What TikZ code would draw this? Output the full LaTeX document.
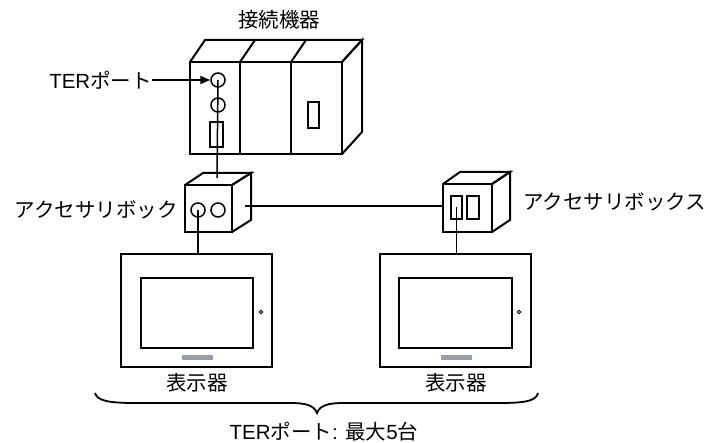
\documentclass[tikz,border=0pt]{standalone}
\usepackage{fontspec}
\setmainfont{Liberation Sans}
\newfontfamily\jp{Noto Sans CJK JP}
\usetikzlibrary{arrows.meta}
\definecolor{bargray}{RGB}{152,156,164}
\begin{document}
\begin{tikzpicture}[x=1pt,y=-1pt,
  dev/.style={draw=black,line width=2pt,line join=miter},
  wire/.style={draw=black,line width=1.5pt},
  port/.style={circle,draw=black,line width=1.5pt,minimum size=14pt,inner sep=0pt},
  slot/.style={rectangle,draw=black,line width=1.5pt,inner sep=0pt},
  lbl/.style={inner sep=0pt,font=\fontsize{20.5}{24}\selectfont},
  panel/.style={rectangle,draw=black,line width=2pt,inner sep=0pt},
  led/.style={circle,draw=black,line width=0.8pt,minimum size=3.5pt,inner sep=0pt},
  bar/.style={rectangle,fill=bargray,inner sep=0pt,minimum width=31pt,minimum height=5pt}]
\useasboundingbox (0,0) rectangle (714,443);

% --- PLC rack (three modules) ---
\draw[dev] (190,62) rectangle (240,154);
\draw[dev] (240,62) rectangle (291,154);
\draw[dev] (291,62) rectangle (342,154);
\draw[dev] (190,62) -- (205,40) -- (362,40) -- (342,62);
\draw[dev] (240,62) -- (255,40);
\draw[dev] (291,62) -- (306,40);
\draw[dev] (342,62) -- (362,40) -- (362,132) -- (342,154);
\node[lbl] (plcname) at (279,20) {\jp 接続機器};

\node[port] (ter) at (218,80) {};
\node[port] (p2) at (218,105) {};
\node[slot,minimum width=13pt,minimum height=25pt] (p3) at (216.5,134.5) {};
\node[slot,minimum width=11pt,minimum height=26pt] (p4) at (313.5,115) {};

\node[lbl,anchor=east] (terlbl) at (152,80) {TER{\jp ポート}};
\draw[wire,line width=1.8pt,-{Triangle[length=10pt,width=8pt]}] (terlbl.east) -- (ter.west);

% --- accessory box (left) ---
\draw[dev] (185,185) rectangle (232,232);
\draw[dev] (185,185) -- (203,173) -- (251,173) -- (232,185);
\draw[dev] (232,185) -- (251,173) -- (251,220) -- (232,232);
\node[port] (ab1) at (198,210) {};
\node[port] (ab2) at (218,210) {};
\coordinate (abtop) at (217,178);
\coordinate (abside) at (245,206);
\node[lbl,anchor=east] (ablbl) at (178,210) {\jp アクセサリボック};

% --- accessory box (right) ---
\draw[dev] (443,184) rectangle (492,232);
\draw[dev] (443,184) -- (460,172) -- (510,172) -- (492,184);
\draw[dev] (492,184) -- (510,172) -- (510,220) -- (492,232);
\node[slot,minimum width=11pt,minimum height=23pt] (rb1) at (456.5,207.5) {};
\node[slot,minimum width=12pt,minimum height=23pt] (rb2) at (473,207.5) {};
\coordinate (rbfront) at (443,206);
\node[lbl,anchor=west] (rblbl) at (523,202) {\jp アクセサリボックス};

% --- displays ---
\node[panel,minimum width=151pt,minimum height=113pt] (d1) at (196.5,310.5) {};
\node[panel,minimum width=112pt,minimum height=70pt] (s1) at (197,313) {};
\node[bar] (b1) at (197.5,357) {};
\node[led] (l1) at (261,312) {};
\node[lbl] (d1lbl) at (197,383) {\jp 表示器};

\node[panel,minimum width=151pt,minimum height=113pt] (d2) at (455.5,310.5) {};
\node[panel,minimum width=113pt,minimum height=70pt] (s2) at (455.5,313) {};
\node[bar] (b2) at (456,357) {};
\node[led] (l2) at (519,312) {};
\node[lbl] (d2lbl) at (456,383) {\jp 表示器};

% --- wiring ---
\draw[wire] (ter.center) -- (abtop);
\draw[wire] (abside) -- (rbfront);
\draw[wire] (ab1.center) -- (ab1.center |- d1.north);
\draw[wire] (rb1.center) -- (rb1.center |- d2.north);

% --- brace and total ---
\draw[line width=1.8pt] (95,393) .. controls (97,401) and (110,403) .. (135,403)
  -- (290,403) .. controls (305,403) and (314,405) .. (317,413)
  .. controls (320,405) and (329,403) .. (344,403)
  -- (500,403) .. controls (525,403) and (536,401) .. (538,393);
\node[lbl] (total) at (324,432) {TER{\jp ポート}: {\jp 最大}5{\jp 台}};
\end{tikzpicture}
\end{document}
